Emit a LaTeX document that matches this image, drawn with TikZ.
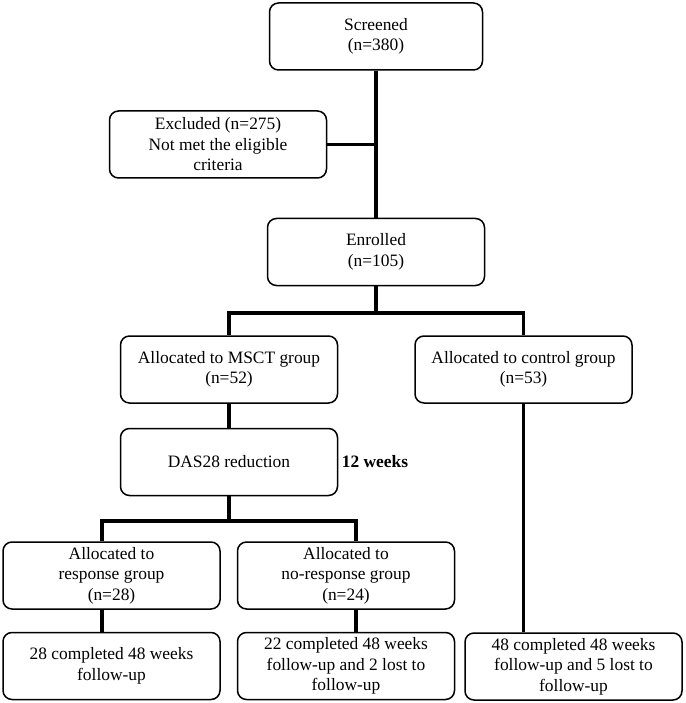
\documentclass[tikz,border=0pt]{standalone}
\usepackage{fontspec}
\setmainfont{Liberation Serif}
\usepackage{tikz}
\usetikzlibrary{positioning}

\begin{document}
\begin{tikzpicture}
	[x=1pt,y=-1pt,
	box/.style={draw=black,line width=1.5pt,rounded corners=9pt,align=center,
		minimum width=217pt,minimum height=67pt,inner sep=2pt,
		font=\fontsize{17.4}{20.5}\selectfont},
	link/.style={line width=3.4pt}]
	\useasboundingbox (0,0) rectangle (685,703);
	
	\node[box,minimum width=213pt] (scr) at (376,36.5) {Screened\\(n=380)};
	\node[box] (excl)  at (218,144.5)  {Excluded (n=275)\\Not met the eligible\\criteria};
	\node[box] (enr)   at (376,252)    {Enrolled\\(n=105)};
	\node[box] (msct)  at (229,369.5)  {Allocated to MSCT group\\(n=52)};
	\node[box] (ctrl)  at (523.5,369.5) {Allocated to control group\\(n=53)};
	\node[box] (das)   at (229,462)    {DAS28 reduction};
	\node[font=\fontsize{17.4}{20.5}\selectfont\bfseries] (wk) at (375,462) {12 weeks};
	\node[box] (resp)  at (111.5,575.5) {Allocated to\\response group\\(n=28)};
	\node[box] (nresp) at (346,575.5)  {Allocated to\\no-response group\\(n=24)};
	\node[box] (f1)    at (111.5,666)  {28 completed 48 weeks\\follow-up};
	\node[box] (f2)    at (346,666)    {22 completed 48 weeks\\follow-up and 2 lost to\\follow-up};
	\node[box] (f3)    at (573.5,666.5) {48 completed 48 weeks\\follow-up and 5 lost to\\follow-up};
	
	\coordinate (j1) at (376,313);
	\coordinate (j2) at (229,521);
	\coordinate (r1) at (102,521);
	\coordinate (r2) at (356,521);
	
	\draw[link] (scr.south) -- (enr.north);
	\draw[link] (excl.east) -- (excl.east -| scr.south);
	\draw[link] (enr.south) -- (j1);
	\draw[link] (msct.north) |- (j1) -| (ctrl.north);
	\draw[link] (msct.south) -- (das.north);
	\draw[link] (das.south) -- (j2);
	\draw[link] (r1 |- resp.north) -- (r1) -- (r2) -- (r2 |- nresp.north);
	\foreach \from/\to/\c in {resp/f1/r1,nresp/f2/r2,ctrl/f3/ctrl}
	\draw[link] (\c |- \from.south) -- (\c |- \to.north);
	
\end{tikzpicture}
\end{document}
